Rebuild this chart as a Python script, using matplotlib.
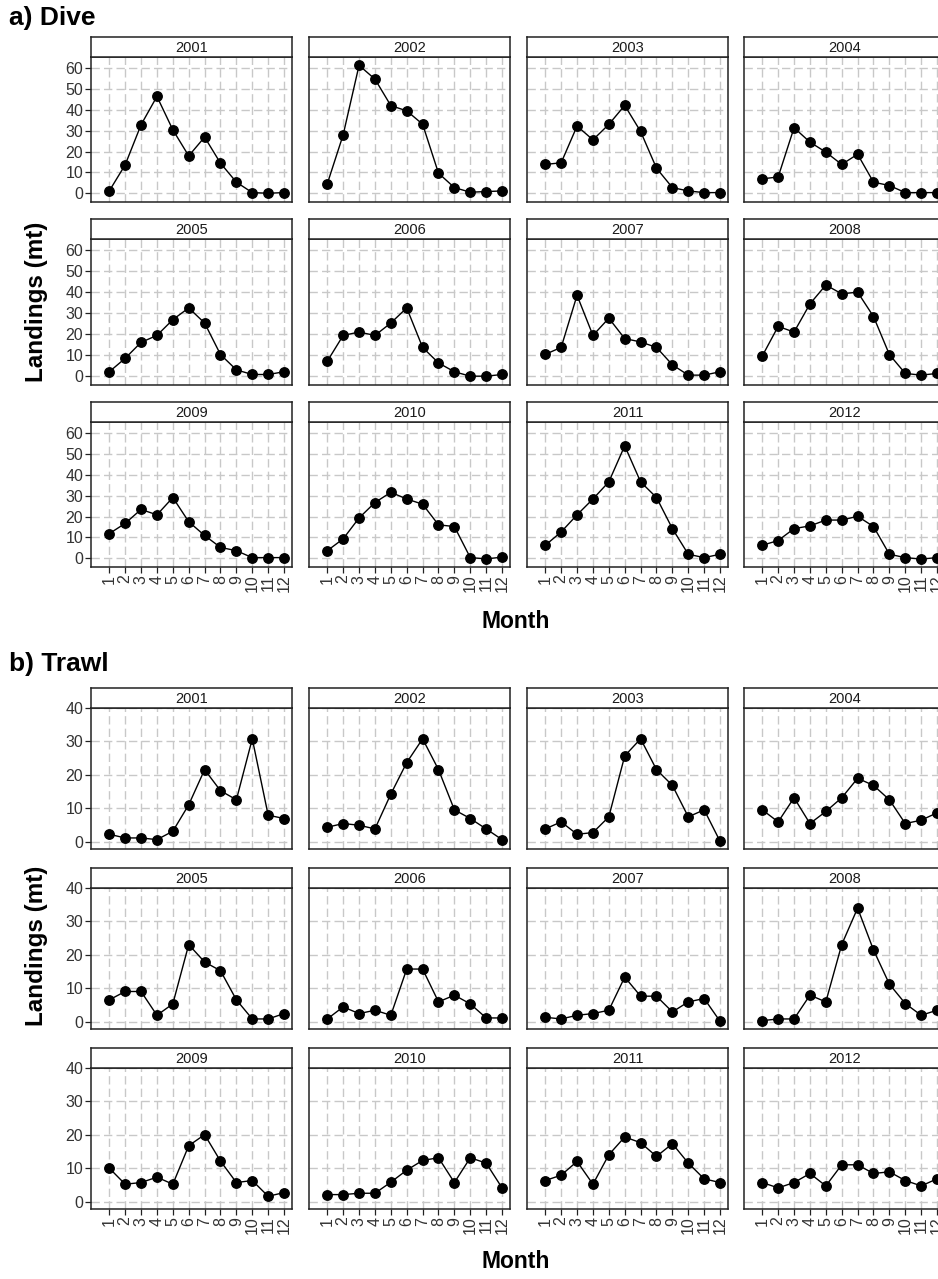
import matplotlib
matplotlib.use("Agg")
import matplotlib.pyplot as plt

months = list(range(1, 13))
years = list(range(2001, 2013))

# a) Dive landings (mt) by month
dive_2001 = [1.1, 13.6, 32.8, 46.4, 30.4, 17.9, 26.9, 14.4, 5.3, 0.3, 0.0, 0.3]
dive_2002 = [4.5, 28.0, 61.3, 54.7, 42.0, 39.5, 33.1, 9.6, 2.7, 0.5, 0.8, 1.1]
dive_2003 = [13.8, 14.6, 32.2, 25.6, 33.0, 42.1, 29.6, 12.0, 2.7, 1.1, 0.3, 0.3]
dive_2004 = [6.9, 7.8, 31.4, 24.5, 19.7, 13.8, 18.7, 5.3, 3.7, 0.3, 0.3, 0.3]
dive_2005 = [2.1, 8.5, 16.1, 19.4, 26.9, 32.5, 25.3, 10.3, 3.0, 0.8, 0.8, 2.1]
dive_2006 = [7.1, 19.4, 21.0, 19.4, 25.3, 32.5, 13.7, 6.3, 2.1, 0.0, 0.0, 0.8]
dive_2007 = [10.4, 13.7, 38.5, 19.4, 27.6, 17.9, 16.3, 13.7, 5.4, 0.5, 0.5, 2.1]
dive_2008 = [9.6, 23.7, 21.0, 34.4, 43.4, 39.2, 40.0, 28.4, 10.3, 1.3, 0.5, 1.3]
dive_2009 = [11.8, 16.7, 23.4, 20.8, 29.1, 17.5, 10.9, 5.2, 3.6, 0.3, 0.3, 0.3]
dive_2010 = [3.6, 9.3, 19.3, 26.7, 31.6, 28.4, 25.9, 16.0, 15.2, 0.3, -0.3, 0.5]
dive_2011 = [6.2, 12.6, 20.8, 28.4, 36.6, 53.9, 36.6, 29.1, 14.2, 1.9, 0.3, 1.9]
dive_2012 = [6.2, 8.5, 14.2, 15.5, 18.3, 18.3, 20.1, 15.2, 1.9, 0.3, -0.4, 0.3]

# b) Trawl landings (mt) by month
trawl_2001 = [2.3, 1.2, 1.2, 0.7, 3.2, 11.1, 21.6, 15.3, 12.6, 30.8, 8.0, 7.0]
trawl_2002 = [4.4, 5.5, 5.0, 3.9, 14.3, 23.7, 30.8, 21.6, 9.6, 7.0, 3.9, 0.7]
trawl_2003 = [3.9, 6.0, 2.3, 2.8, 7.5, 25.7, 30.8, 21.6, 16.9, 7.5, 9.6, 0.2]
trawl_2004 = [9.6, 6.0, 13.2, 5.5, 9.1, 13.2, 19.0, 16.9, 12.6, 5.5, 6.5, 8.7]
trawl_2005 = [6.6, 9.1, 9.1, 2.0, 5.4, 23.1, 17.9, 15.3, 6.6, 0.9, 0.9, 2.5]
trawl_2006 = [0.9, 4.5, 2.5, 3.5, 2.0, 15.8, 15.8, 6.0, 8.0, 5.4, 1.2, 1.2]
trawl_2007 = [1.4, 0.9, 2.0, 2.5, 3.5, 13.4, 7.7, 7.7, 3.0, 6.0, 7.0, 0.2]
trawl_2008 = [0.4, 0.9, 0.9, 8.0, 6.0, 23.1, 34.0, 21.5, 11.3, 5.5, 2.0, 3.5]
trawl_2009 = [10.1, 5.3, 5.8, 7.4, 5.3, 16.8, 20.1, 12.2, 5.8, 6.4, 1.7, 2.8]
trawl_2010 = [2.2, 2.2, 2.6, 2.6, 5.9, 9.5, 12.4, 13.2, 5.8, 13.2, 11.6, 4.2]
trawl_2011 = [6.4, 8.0, 12.1, 5.3, 14.1, 19.4, 17.7, 13.6, 17.4, 11.6, 6.9, 5.8]
trawl_2012 = [5.8, 4.2, 5.8, 8.5, 4.8, 11.1, 11.1, 8.5, 9.0, 6.4, 4.8, 6.9]

dive_ticks = [0, 10, 20, 30, 40, 50, 60]
trawl_ticks = [0, 10, 20, 30, 40]

dive = dict(zip(years, [dive_2001, dive_2002, dive_2003, dive_2004, dive_2005, dive_2006,
                        dive_2007, dive_2008, dive_2009, dive_2010, dive_2011, dive_2012]))
trawl = dict(zip(years, [trawl_2001, trawl_2002, trawl_2003, trawl_2004, trawl_2005, trawl_2006,
                         trawl_2007, trawl_2008, trawl_2009, trawl_2010, trawl_2011, trawl_2012]))

plt.rcParams["font.family"] = ["Liberation Sans", "DejaVu Sans"]

W, H = 938, 1279
fig = plt.figure(figsize=(W / 100, H / 100), dpi=100)
fig.patch.set_facecolor("white")

col_left = [91, 309, 527, 744]
pan_w = 201
strip_h = 20.5
edge = "#222222"
tick_col = "#333333"


def px_axes(x0, y0, x1, y1):
    # pixel box (top-left origin) -> figure axes
    return fig.add_axes([x0 / W, 1 - y1 / H, (x1 - x0) / W, (y1 - y0) / H])


def draw_group(rows, data, ylim, yticks):
    for i, year in enumerate(years):
        r, c = divmod(i, 4)
        top, bot = rows[r]
        x0 = col_left[c]
        ax = px_axes(x0, top, x0 + pan_w, bot)
        ax.set_xlim(-0.15, 12.5)
        ax.set_ylim(*ylim)
        ax.set_xticks(months)
        ax.set_yticks(yticks)
        ax.grid(True, color="#c8c8c8", linestyle=(0, (6, 3)), linewidth=1.0)
        ax.set_axisbelow(True)
        ax.plot(months, data[year], color="black", lw=1.0, marker="o",
                ms=6.8, zorder=3, clip_on=False)
        for s in ax.spines.values():
            s.set_color(edge)
            s.set_linewidth(1.1)
        ax.tick_params(length=4, width=0.9, color=edge, labelsize=11.5,
                       labelcolor=tick_col, pad=1.5)
        if c != 0:
            ax.tick_params(axis="y", left=False, labelleft=False)
        if r != 2:
            ax.tick_params(axis="x", bottom=False, labelbottom=False)
        else:
            ax.set_xticklabels([str(m) for m in months], rotation=90)

        st = px_axes(x0, top - strip_h, x0 + pan_w, top)
        st.set_xticks([])
        st.set_yticks([])
        st.set_facecolor("white")
        for s in st.spines.values():
            s.set_color(edge)
            s.set_linewidth(1.1)
        st.text(0.5, 0.45, str(year), transform=st.transAxes, ha="center",
                va="center", fontsize=10.5, color="#1a1a1a")


dive_rows = [(57, 202), (239, 385), (422, 567)]
trawl_rows = [(708, 849), (888, 1029), (1068, 1209)]

draw_group(dive_rows, dive, (-4.2, 65.3), dive_ticks)
draw_group(trawl_rows, trawl, (-2.1, 40.0), trawl_ticks)

lab = dict(fontweight="bold", color="black")
fig.text(9 / W, 1 - 18 / H, "a) Dive", fontsize=19, ha="left", va="center", **lab)
fig.text(9 / W, 1 - 664 / H, "b) Trawl", fontsize=19, ha="left", va="center", **lab)
fig.text(36 / W, 1 - 302 / H, "Landings (mt)", fontsize=17.5, rotation=90,
         ha="center", va="center", **lab)
fig.text(36 / W, 1 - 946 / H, "Landings (mt)", fontsize=17.5, rotation=90,
         ha="center", va="center", **lab)
fig.text(516 / W, 1 - 621 / H, "Month", fontsize=16.5, ha="center", va="center", **lab)
fig.text(516 / W, 1 - 1262 / H, "Month", fontsize=16.5, ha="center", va="center", **lab)

fig.savefig("out.png", dpi=100)
